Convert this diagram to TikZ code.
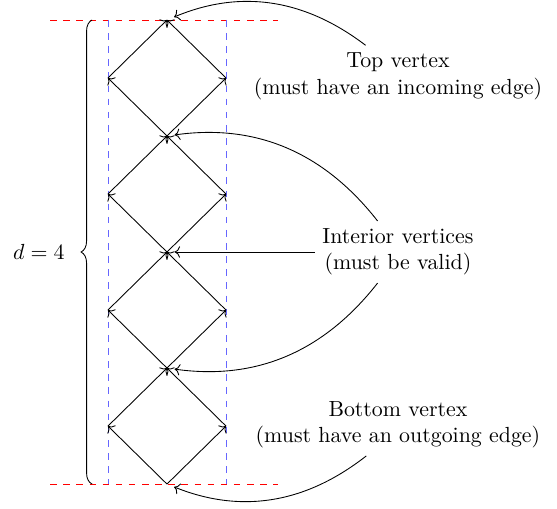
\documentclass[tikz,border=0pt]{standalone}
\usepackage{amsmath,amssymb}
\usepackage{tikz}
\usetikzlibrary{
  arrows.meta,
  calc,
  decorations.pathreplacing
}

\begin{document}
\begin{tikzpicture}[
    x=0.948cm, y=0.932cm,
    % Styles
    edge_arrow/.style={->},
    bound_line/.style={red, dashed},
    side_line/.style={blue!60, dashed},
    label_text/.style={align=center, inner sep=3.33pt},
    pointer/.style={->, shorten >=3.5pt}
]
\useasboundingbox (-2.83,-0.414) rectangle (6.61,8.345);

% 1. Vertices of the chain
\foreach \k in {0,2,...,8} {
    \coordinate (c\k) at (0,\k);
}
\foreach \k in {1,3,...,7} {
    \coordinate (l\k) at (-1,\k);
    \coordinate (r\k) at (1,\k);
}

% 2. Guide lines
\draw[bound_line] ($(c8)+(-1.98,0)$) -- ($(c8)+(1.88,0)$);
\draw[bound_line] ($(c0)+(-1.98,0)$) -- ($(c0)+(1.88,0)$);
\draw[side_line] (c8 -| l1) -- (c0 -| l1);
\draw[side_line] (c8 -| r1) -- (c0 -| r1);

% 3. Diamonds (all edges point up)
\foreach \k/\n/\m in {0/1/2, 2/3/4, 4/5/6, 6/7/8} {
    \draw[edge_arrow] (c\k) -- (l\n);
    \draw[edge_arrow] (c\k) -- (r\n);
    \draw[edge_arrow] (l\n) -- (c\m);
    \draw[edge_arrow] (r\n) -- (c\m);
}

% 4. Height brace
\draw[decorate, decoration={brace, amplitude=5pt}]
    ($(c0)+(-1.27,0)$) -- ($(c8)+(-1.27,0)$) node[midway, left=9pt] (height) {$d=4$};

% 5. Labels
\node[label_text] (top_lbl) at (3.915,7.03) {Top vertex\\(must have an incoming edge)};
\node[label_text] (mid_lbl) at (3.915,4) {Interior vertices\\(must be valid)};
\node[label_text] (bot_lbl) at (3.915,1.02) {Bottom vertex\\(must have an outgoing edge)};

% --- Pointers ---
\draw[pointer] (top_lbl) to[bend right] (c8);
\draw[pointer] (mid_lbl) to[bend right] (c6);
\draw[pointer] (mid_lbl) -- (c4);
\draw[pointer] (mid_lbl) to[bend left] (c2);
\draw[pointer] (bot_lbl) to[bend left] (c0);

\end{tikzpicture}
\end{document}
